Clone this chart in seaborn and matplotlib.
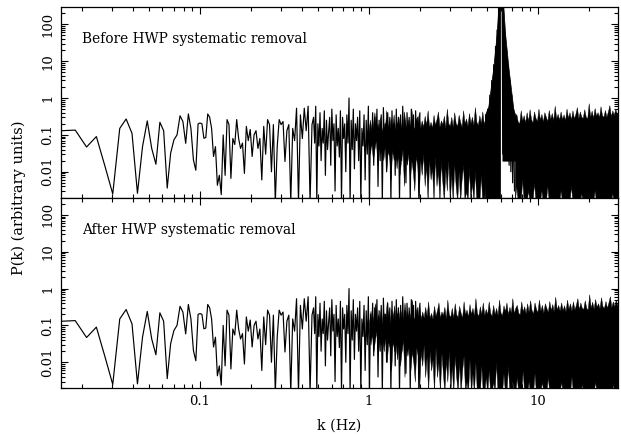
import numpy as np
import matplotlib
matplotlib.use("Agg")
import matplotlib.pyplot as plt
import seaborn as sns
from matplotlib.ticker import FuncFormatter, NullFormatter

# ================================
# DATA
# ================================
# lowest bins: one value per frequency bin
bin_width_hz = 0.00305
low_bins = list(range(4, 32))
low_power = [0.12, 0.13, 0.135, 0.047, 0.09, 0.014, 0.0025, 0.15, 0.27, 0.11,
             0.0026, 0.048, 0.24, 0.043, 0.016, 0.22, 0.13, 0.0036, 0.032, 0.073,
             0.1, 0.33, 0.23, 0.059, 0.37, 0.15, 0.021, 0.011]

# 0.1 - 0.46 Hz, wiggles still separable
mid_k_range = (0.0975, 0.46)
mid_power = [0.2, 0.21, 0.2, 0.081, 0.085, 0.37, 0.3, 0.15, 0.026, 0.048,
             0.0043, 0.008, 0.0024, 0.1, 0.008, 0.26, 0.19, 0.0066, 0.08, 0.055,
             0.26, 0.08, 0.043, 0.06, 0.009, 0.17, 0.07, 0.14, 0.026, 0.1,
             0.13, 0.043, 0.08, 0.006, 0.17, 0.03, 0.26, 0.19, 0.01, 0.19,
             0.0015, 0.05, 0.26, 0.19, 0.23, 0.019, 0.13, 0.19, 0.0015, 0.15,
             0.07, 0.53, 0.0015, 0.35, 0.08, 0.53, 0.13, 0.6, 0.0015, 0.19]

# 0.47 - 2 Hz, getting crowded
busy_k_range = (0.47, 2.0)
busy_power = [0.3, 0.06, 0.6, 0.0015, 0.2, 0.05, 0.4, 0.02, 0.15, 0.06,
              0.45, 0.008, 0.25, 0.04, 0.12, 0.3, 0.015, 0.5, 0.07, 0.2,
              0.003, 0.35, 0.05, 0.15, 0.025, 0.45, 0.0015, 0.3, 0.08, 0.2,
              0.01, 0.35, 0.06, 1.0, 0.0015, 0.25, 0.04, 0.5, 0.012, 0.2,
              0.07, 0.3, 0.02, 0.45, 0.0015, 0.15, 0.05, 0.35, 0.006, 0.25,
              0.03, 0.6, 0.0015, 0.2, 0.05, 0.4, 0.015, 0.3, 0.07, 0.5,
              0.004, 0.25, 0.02, 0.35, 0.0015, 0.55, 0.04, 0.2, 0.01, 0.4,
              0.06, 0.3, 0.0015, 0.45, 0.03, 0.2, 0.008, 0.5, 0.05, 0.3,
              0.0015, 0.35, 0.02, 0.6, 0.04, 0.25, 0.005, 0.4, 0.06, 0.3,
              0.0015, 0.5, 0.03, 0.35, 0.01, 0.45, 0.05, 0.3, 0.0015, 0.4]

# 1 - 30 Hz: too many bins per pixel, so the trace is a band
# spanning the lowest and highest value of each pixel column
band_k_range = (1.0, 30.0)
band_hi = [0.12, 0.25, 0.1, 0.18, 0.4, 0.12, 0.2, 0.14, 0.3, 0.11,
           0.22, 0.13, 0.45, 0.16, 0.12, 0.28, 0.15, 0.35, 0.13, 0.22,
           0.15, 0.3, 0.16, 0.13, 0.42, 0.18, 0.14, 0.26, 0.16, 0.5,
           0.17, 0.14, 0.28, 0.18, 0.38, 0.15, 0.24, 0.16, 0.32, 0.18,
           0.45, 0.16, 0.22, 0.15, 0.34, 0.18, 0.26, 0.42, 0.16, 0.24,
           0.19, 0.32, 0.15, 0.5, 0.2, 0.17, 0.3, 0.16, 0.4, 0.2,
           0.17, 0.34, 0.22, 0.16, 0.45, 0.2, 0.27, 0.17, 0.38, 0.2,
           0.3, 0.18, 0.55, 0.22, 0.18, 0.33, 0.2, 0.42, 0.19, 0.28,
           0.2, 0.45, 0.22, 0.18, 0.36, 0.2, 0.3, 0.19, 0.5, 0.22,
           0.19, 0.35, 0.24, 0.42, 0.2, 0.32, 0.22, 0.55, 0.21, 0.3,
           0.36, 0.22, 0.2, 0.45, 0.24, 0.33, 0.21, 0.4, 0.23, 0.48,
           0.26, 0.21, 0.42, 0.28, 0.23, 0.5, 0.25, 0.36, 0.22, 0.4,
           0.3, 0.23, 0.46, 0.26, 0.38, 0.24, 0.6, 0.27, 0.36, 0.25,
           0.42, 0.26, 0.35, 0.24, 0.5, 0.28, 0.4, 0.25, 0.45, 0.27,
           0.36, 0.55, 0.27, 0.42, 0.3, 0.28, 0.48, 0.3, 0.27, 0.7,
           0.3, 0.44, 0.28, 0.52, 0.32, 0.4, 0.29, 0.58, 0.33, 0.3,
           0.46, 0.3, 0.42, 0.62, 0.31, 0.45, 0.33, 0.5, 0.35, 0.45]
band_lo = [0.05, 0.03, 0.06, 0.02, 0.04, 0.07, 0.015, 0.05, 0.03, 0.04,
           0.02, 0.05, 0.01, 0.035, 0.025, 0.006, 0.04, 0.02, 0.03, 0.012,
           0.03, 0.008, 0.02, 0.04, 0.004, 0.025, 0.015, 0.03, 0.006, 0.02,
           0.01, 0.003, 0.025, 0.015, 0.002, 0.02, 0.008, 0.03, 0.004, 0.015,
           0.0015, 0.02, 0.006, 0.012, 0.0015, 0.025, 0.004, 0.01, 0.0015, 0.018,
           0.005, 0.0015, 0.012, 0.003, 0.02, 0.0015, 0.008, 0.0015, 0.015, 0.004,
           0.0015, 0.01, 0.0015, 0.006, 0.015, 0.0015, 0.003, 0.0015, 0.012, 0.0015,
           0.005, 0.0015, 0.01, 0.0015, 0.002, 0.0015, 0.008, 0.0015, 0.0015, 0.004,
           0.0015, 0.006, 0.0015, 0.0015, 0.003, 0.0015, 0.01, 0.0015, 0.0015, 0.002,
           0.0015, 0.005, 0.0015, 0.0015, 0.008, 0.0015, 0.0015, 0.003, 0.0015, 0.0015,
           0.004, 0.0015, 0.0015, 0.0015, 0.006, 0.0015, 0.0015, 0.0015, 0.003, 0.0015,
           0.0015, 0.0015, 0.005, 0.0015, 0.0015, 0.0015, 0.0015, 0.003, 0.0015, 0.0015,
           0.0015, 0.004, 0.0015, 0.0015, 0.0015, 0.0015, 0.002, 0.0015, 0.0015, 0.0015,
           0.003, 0.0015, 0.0015, 0.0015, 0.0015, 0.0015, 0.0015, 0.004, 0.0015, 0.0015,
           0.0015, 0.0015, 0.0015, 0.0015, 0.0025, 0.0015, 0.0015, 0.0015, 0.0015, 0.0015,
           0.0015, 0.0015, 0.0015, 0.003, 0.0015, 0.0015, 0.0015, 0.0015, 0.0015, 0.0015,
           0.0015, 0.0015, 0.0015, 0.0015, 0.0015, 0.0025, 0.0015, 0.0015, 0.0015, 0.0015]

# HWP line near 6 Hz (before removal only)
peak_k = [4.90, 4.97, 5.04, 5.11, 5.18, 5.25, 5.32, 5.39, 5.46, 5.53,
          5.60, 5.66, 5.72, 5.78, 5.84, 5.90, 5.95, 6.00, 6.06, 6.12,
          6.18, 6.24, 6.30, 6.37, 6.44, 6.51, 6.58, 6.66, 6.74, 6.82,
          6.90, 6.98, 7.07, 7.16, 7.25]
peak_power = [0.35, 0.002, 0.5, 0.003, 1.2, 0.002, 3, 0.0015, 8, 0.0015,
              25, 0.0015, 70, 0.0015, 400, 0.0015, 3000, 5000, 4000, 2000,
              0.03, 300, 0.04, 60, 0.02, 20, 0.03, 8, 0.015, 3,
              0.01, 1.2, 0.005, 0.5, 0.003]
# outline of the filled flanks of the line
flank_left_k = [4.85, 5.08, 5.44, 5.69, 5.82, 5.96]
flank_left_top = [0.35, 0.6, 7, 56, 300, 3000]
flank_left_floor = 0.0015
flank_right_k = [6.15, 6.23, 6.38, 6.67, 7.14, 7.4]
flank_right_top = [3000, 300, 56, 7, 0.5, 0.3]
flank_right_floor = 0.02

titles = ["Before HWP systematic removal", "After HWP systematic removal"]

# ================================
# BUILD SERIES
# ================================
k_low = np.array(low_bins) * bin_width_hz
k_mid = np.geomspace(*mid_k_range, len(mid_power))
k_busy = np.geomspace(*busy_k_range, len(busy_power))
k_trace = np.concatenate([k_low, k_mid, k_busy])
p_trace = np.concatenate([low_power, mid_power, busy_power])

k_band = np.geomspace(*band_k_range, len(band_hi))
band_all = np.ones(len(k_band), dtype=bool)
band_no_line = (k_band < 5.0) | (k_band > 7.2)

# ================================
# PLOT
# ================================
sns.set_style("ticks")
plt.rcParams["font.family"] = ["DejaVu Serif"]
plt.rcParams["font.size"] = 9.5
plt.rcParams["text.color"] = "black"
plt.rcParams["axes.labelcolor"] = "black"

fig = plt.figure(figsize=(6.21, 4.37), dpi=100)
ax_top = fig.add_axes([0.0982, 0.548, 0.897, 0.436])
ax_bot = fig.add_axes([0.0982, 0.112, 0.897, 0.436])

fmt = FuncFormatter(lambda v, pos: "%g" % v)

panels = [(ax_top, titles[0], band_no_line), (ax_bot, titles[1], band_all)]

for ax, title, band_where in panels:
    ax.fill_between(k_band, band_lo, band_hi, where=band_where,
                    color="black", linewidth=0.3)
    sns.lineplot(x=k_trace, y=p_trace, ax=ax, color="black", linewidth=0.85,
                 estimator=None, sort=False)
    ax.set_xscale("log")
    ax.set_yscale("log")
    ax.set_xlim(0.01507, 29.7)
    ax.set_ylim(0.002, 295)
    ax.tick_params(which="both", direction="in", top=True, right=True,
                   width=0.8, colors="black", labelcolor="black")
    ax.tick_params(which="major", length=5, pad=5)
    ax.tick_params(which="minor", length=2.8)
    ax.yaxis.set_major_formatter(fmt)
    ax.yaxis.set_minor_formatter(NullFormatter())
    ax.xaxis.set_minor_formatter(NullFormatter())
    for lab in ax.get_yticklabels():
        lab.set_rotation(90)
        lab.set_va("center")
    for s in ax.spines.values():
        s.set_linewidth(0.9)
        s.set_color("black")
    ax.text(0.038, 0.83, title, transform=ax.transAxes, va="center",
            fontsize=9.9, color="black")

# the HWP line itself, before removal
sns.lineplot(x=peak_k, y=peak_power, ax=ax_top, color="black", linewidth=0.85,
             estimator=None, sort=False)
ax_top.fill_between(flank_left_k, flank_left_floor, flank_left_top,
                    color="black", linewidth=0.5)
ax_top.fill_between(flank_right_k, flank_right_floor, flank_right_top,
                    color="black", linewidth=0.5)

ax_top.xaxis.set_major_formatter(NullFormatter())
ax_bot.xaxis.set_major_formatter(fmt)
ax_bot.set_xlabel("k (Hz)", labelpad=8, fontsize=10.3, color="black")
fig.text(0.03, 0.548, "P(k) (arbitrary units)", rotation=90,
         ha="center", va="center", fontsize=10.5, color="black")

fig.savefig("out.png", dpi=100)
